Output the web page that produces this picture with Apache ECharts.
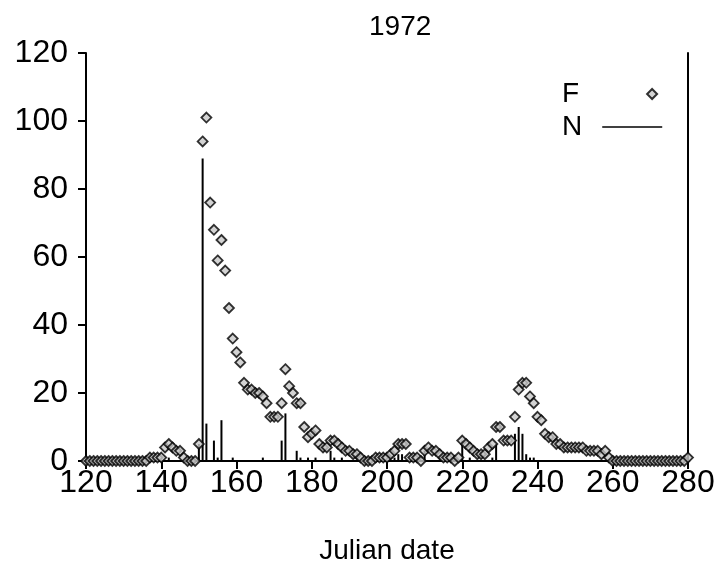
<!DOCTYPE html>
<html>
<head>
<meta charset="utf-8">
<script src="https://cdn.jsdelivr.net/npm/echarts@6/dist/echarts.min.js"></script>
<style>
html, body { margin: 0; padding: 0; background: #fff; }
#chart { width: 722px; height: 573px; }
</style>
</head>
<body>
<div id="chart"></div>
<script>
// F: one value per julian day, first day is 120
var fStartDay = 120;
var fValues = [
    0, 0, 0, 0, 0, 0, 0, 0, 0, 0, 0, 0, 0, 0, 0, 0, 0,   // 120-136
    1, 1, 1, 1,                                          // 137-140
    4, 5, 4, 3, 3, 1, 0, 0, 0,                           // 141-149
    5, 94, 101, 76, 68, 59, 65, 56, 45, 36,              // 150-159
    32, 29, 23, 21, 21, 20, 20, 19, 17, 13,              // 160-169
    13, 13, 17, 27, 22, 20, 17, 17, 10, 7,               // 170-179
    8, 9, 5, 4, 4, 6, 6, 5, 4, 3,                        // 180-189
    3, 2, 2, 1, 0, 0, 0, 1, 1, 1,                        // 190-199
    1, 2, 3, 5, 5, 5, 1, 1, 1, 0,                        // 200-209
    3, 4, 3, 3, 2, 1, 1, 1, 0, 1,                        // 210-219
    6, 5, 4, 3, 2, 2, 2, 4, 5, 10,                       // 220-229
    10, 6, 6, 6, 13, 21, 23, 23, 19, 17,                 // 230-239
    13, 12, 8, 7, 7, 5, 5, 4, 4, 4,                      // 240-249
    4, 4, 4, 3, 3, 3, 3, 2, 3, 1,                        // 250-259
    0, 0, 0, 0, 0, 0, 0, 0, 0, 0,                        // 260-269
    0, 0, 0, 0, 0, 0, 0, 0, 0, 0,                        // 270-279
    1                                                    // 280
];

// N: only the days with a needle
var nDays   = [142, 150, 151, 152, 154, 155, 156, 159, 167, 172, 173, 176, 177, 179, 181, 185, 186, 188,
               202, 203, 204, 210, 220, 222, 228, 229, 234, 235, 236, 237, 238, 239];
var nValues = [1, 5, 89, 11, 6, 1, 12, 1, 1, 6, 14, 3, 1, 1, 1, 3, 1, 1,
               1, 2, 2, 3, 6, 1, 1, 5, 8, 10, 8, 2, 1, 1];

var xTicks = [120, 140, 160, 180, 200, 220, 240, 260, 280];
var yTicks = [0, 20, 40, 60, 80, 100, 120];

var fData = [];
for (var i = 0; i < fValues.length; i++) {
    fData.push([fStartDay + i, fValues[i]]);
}
var nData = [];
for (var j = 0; j < nDays.length; j++) {
    nData.push([nDays[j], nValues[j]]);
}

var font = 'Liberation Sans, Arial, sans-serif';
var chart = echarts.init(document.getElementById('chart'));

var option = {
    animation: false,
    backgroundColor: '#fff',
    title: {
        text: '1972',
        left: 364,
        top: 8,
        textStyle: { fontFamily: font, fontSize: 28, fontWeight: 'normal', color: '#000' }
    },
    legend: [{
        data: ['F'],
        orient: 'vertical',
        left: 557,
        top: 75,
        align: 'right',
        itemWidth: 10,
        itemHeight: 10,
        textStyle: { fontFamily: font, fontSize: 28, color: '#000', padding: [0, 63, 0, 0] }
    }, {
        data: [{ name: 'N', icon: 'rect' }],
        orient: 'vertical',
        left: 557,
        top: 108,
        align: 'right',
        itemWidth: 60,
        itemHeight: 1.5,
        textStyle: { fontFamily: font, fontSize: 28, color: '#000', padding: [0, 15, 0, 0] }
    }],
    grid: { left: 86, right: 34, top: 53, bottom: 112 },
    xAxis: {
        type: 'value',
        min: xTicks[0],
        max: xTicks[xTicks.length - 1],
        interval: 20,
        name: 'Julian date',
        nameLocation: 'middle',
        nameGap: 76,
        nameTextStyle: { fontFamily: font, fontSize: 28, color: '#000' },
        axisLine: { lineStyle: { color: '#000', width: 2 } },
        axisTick: { show: true, inside: false, length: 8, lineStyle: { color: '#000', width: 2 } },
        axisLabel: { fontFamily: font, fontSize: 32, color: '#000', margin: 6 },
        splitLine: { show: false }
    },
    yAxis: [{
        type: 'value',
        min: yTicks[0],
        max: yTicks[yTicks.length - 1],
        interval: 20,
        axisLine: { show: true, lineStyle: { color: '#000', width: 2 } },
        axisTick: { show: true, inside: false, length: 8, lineStyle: { color: '#000', width: 2 } },
        axisLabel: { fontFamily: font, fontSize: 32, color: '#000', margin: 18 },
        splitLine: { show: false }
    }, {
        type: 'value',
        position: 'right',
        min: 0,
        max: 120,
        interval: 20,
        axisLine: { show: true, lineStyle: { color: '#000', width: 2 } },
        axisTick: { show: false },
        axisLabel: { show: false },
        splitLine: { show: false }
    }],
    series: [{
        name: 'N',
        type: 'bar',
        barWidth: 2,
        itemStyle: { color: '#000' },
        data: nData
    }, {
        name: 'F',
        type: 'scatter',
        symbol: 'diamond',
        symbolSize: 10,
        itemStyle: { color: '#c8c8c8', borderColor: '#000', borderWidth: 1.8 },
        data: fData
    }]
};
chart.setOption(option);
</script>
</body>
</html>
